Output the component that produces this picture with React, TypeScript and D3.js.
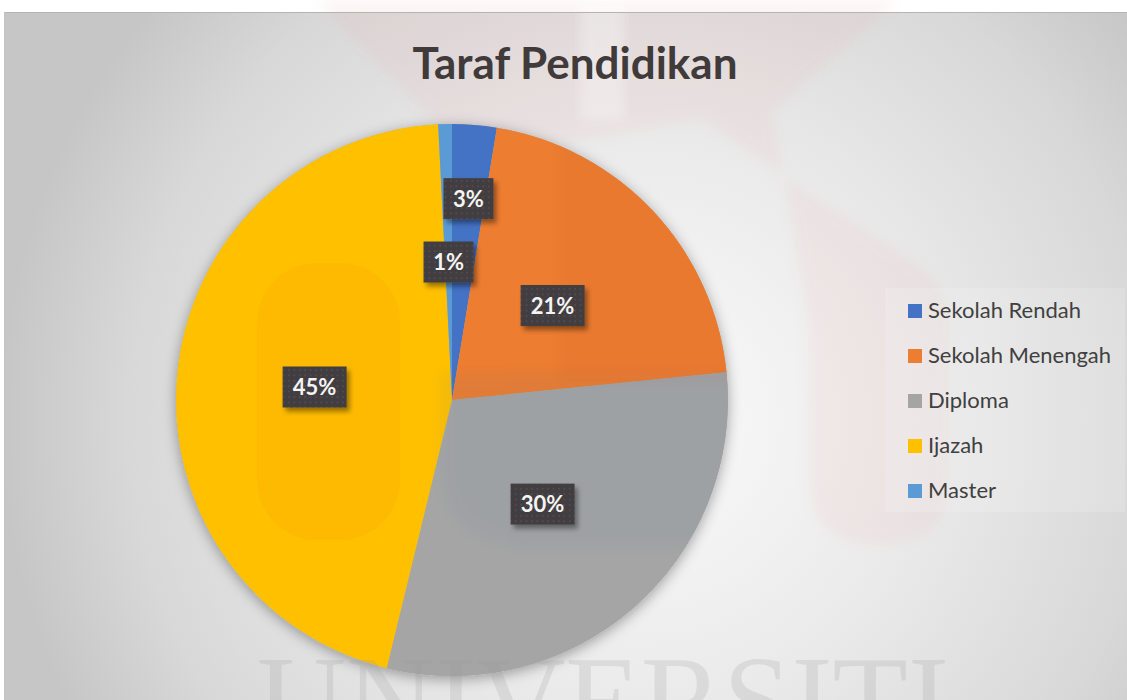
import { useEffect, useRef } from "react";
import * as d3 from "d3";

const categories = ["Sekolah Rendah", "Sekolah Menengah", "Diploma", "Ijazah", "Master"];
const values = [2.6, 20.8, 30.4, 45.4, 0.8];
const colors = ["#4472C4", "#ED7D31", "#A5A5A5", "#FFC000", "#5B9BD5"];
const title = "Taraf Pendidikan";

const App = () => {
    const chartRef = useRef<SVGSVGElement | null>(null);

    useEffect(() => {
        if (!chartRef.current) return;
        d3.select(chartRef.current).selectAll("*").remove();

        const width = 1127;
        const height = 700;
        const cx = 452;
        const cy = 400;
        const radius = 276;

        const svg = d3.select(chartRef.current).attr("width", width).attr("height", height);
        const defs = svg.append("defs");

        // background gradient
        const grad = defs
            .append("radialGradient")
            .attr("id", "bg")
            .attr("gradientUnits", "userSpaceOnUse")
            .attr("cx", 640)
            .attr("cy", 420)
            .attr("r", 640);
        grad.append("stop").attr("offset", 0).attr("stop-color", "#fbfbfb");
        grad.append("stop").attr("offset", 0.45).attr("stop-color", "#eaeaea");
        grad.append("stop").attr("offset", 0.8).attr("stop-color", "#d8d8d8");
        grad.append("stop").attr("offset", 1).attr("stop-color", "#c6c6c6");

        const shadow = defs.append("filter").attr("id", "pieShadow").attr("x", "-20%").attr("y", "-20%").attr("width", "140%").attr("height", "140%");
        shadow.append("feDropShadow").attr("dx", 0).attr("dy", 3).attr("stdDeviation", 7).attr("flood-color", "#000").attr("flood-opacity", 0.35);

        const boxShadow = defs.append("filter").attr("id", "boxShadow").attr("x", "-30%").attr("y", "-30%").attr("width", "160%").attr("height", "160%");
        boxShadow.append("feDropShadow").attr("dx", 3).attr("dy", 4).attr("stdDeviation", 2.5).attr("flood-color", "#000").attr("flood-opacity", 0.4);

        const soft = defs.append("filter").attr("id", "soft");
        soft.append("feGaussianBlur").attr("stdDeviation", 6);

        const dots = defs.append("pattern").attr("id", "dots").attr("width", 5.4).attr("height", 5.4).attr("patternUnits", "userSpaceOnUse");
        dots.append("rect").attr("width", 5.4).attr("height", 5.4).attr("fill", "#423d3f");
        dots.append("rect").attr("x", 2).attr("y", 2).attr("width", 1.5).attr("height", 1.5).attr("fill", "#575254");

        // chart area
        svg.append("rect").attr("width", width).attr("height", height).attr("fill", "#ffffff");
        svg.append("rect").attr("x", 4).attr("y", 12).attr("width", width).attr("height", height).attr("fill", "url(#bg)");

        // faint watermark behind
        svg.append("path")
            .attr("d", "M316,0 L899,0 L773,112 L809,330 L809,480 Q809,545 880,545 Q950,545 950,480 L950,320 Q950,290 920,265 L700,120 L470,160 Z")
            .attr("fill", "#f0a0a0")
            .attr("opacity", 0.1)
            .attr("filter", "url(#soft)");
        svg.append("rect").attr("x", 580).attr("y", 0).attr("width", 44).attr("height", 120).attr("fill", "#ffffff").attr("opacity", 0.3).attr("filter", "url(#soft)");

        svg.append("line").attr("x1", 4).attr("x2", width).attr("y1", 12.5).attr("y2", 12.5).attr("stroke", "#b4b4b4");
        svg.append("line").attr("x1", 4.5).attr("x2", 4.5).attr("y1", 12).attr("y2", height).attr("stroke", "#c4c4c4");

        // title
        svg.append("text")
            .attr("x", 575)
            .attr("y", 79)
            .attr("text-anchor", "middle")
            .attr("font-family", "Lato, 'Open Sans', sans-serif")
            .attr("font-weight", 700)
            .attr("font-size", 44)
            .attr("fill", "#403a3b")
            .text(title);

        // pie
        const pie = d3.pie<number>().sort(null).value((d) => d);
        const arcs = pie(values);
        const arc = d3.arc<d3.PieArcDatum<number>>().innerRadius(0).outerRadius(radius);

        const g = svg.append("g").attr("transform", `translate(${cx},${cy})`);
        g.append("circle").attr("r", radius).attr("fill", "#aaaaaa").attr("filter", "url(#pieShadow)");
        g.selectAll("path.slice")
            .data(arcs)
            .enter()
            .append("path")
            .attr("class", "slice")
            .attr("d", arc)
            .attr("fill", (_, i) => colors[i]);

        // watermark tints over the pie
        const clip = defs.append("clipPath").attr("id", "pieClip");
        clip.append("circle").attr("cx", cx).attr("cy", cy).attr("r", radius);
        const wm = svg.append("g").attr("clip-path", "url(#pieClip)");
        wm.append("rect").attr("x", 257).attr("y", 263).attr("width", 143).attr("height", 277).attr("rx", 60).attr("fill", "#f08c00").attr("opacity", 0.1);
        wm.append("path")
            .attr("d", "M440,372 L770,372 L770,460 Q770,545 685,545 L525,545 Q440,545 440,460 Z")
            .attr("fill", "#4f6f95")
            .attr("opacity", 0.07)
            .attr("filter", "url(#soft)");
        wm.append("path")
            .attr("d", "M560,120 L760,120 L760,380 L560,380 Z")
            .attr("fill", "#b04020")
            .attr("opacity", 0.05)
            .attr("filter", "url(#soft)");

        // data labels, pushed outward when they collide
        const total = d3.sum(values);
        const placed: { x: number; y: number; w: number; h: number }[] = [];
        const labels: { x: number; y: number; w: number; h: number; text: string }[] = [];
        const boxH = 41;
        const gap = 22;
        for (let i = arcs.length - 1; i >= 0; i--) {
            const a = arcs[i];
            const text = `${Math.round((a.data / total) * 100)}%`;
            const w = 22 + 14 * text.length;
            const mid = (a.startAngle + a.endAngle) / 2;
            let r = radius / 2;
            let x = 0;
            let y = 0;
            for (let k = 0; k < 200; k++) {
                x = cx + Math.sin(mid) * r;
                y = cy - Math.cos(mid) * r;
                const hit = placed.some(
                    (p) => Math.abs(p.x - x) < (p.w + w) / 2 && Math.abs(p.y - y) < (p.h + boxH) / 2 + gap
                );
                if (!hit) break;
                r += 2;
            }
            placed.push({ x, y, w, h: boxH });
            labels.push({ x, y, w, h: boxH, text });
        }

        const lab = svg.selectAll("g.label").data(labels).enter().append("g").attr("class", "label");
        lab.append("rect")
            .attr("x", (d) => d.x - d.w / 2)
            .attr("y", (d) => d.y - d.h / 2)
            .attr("width", (d) => d.w)
            .attr("height", (d) => d.h)
            .attr("fill", "url(#dots)")
            .attr("filter", "url(#boxShadow)");
        lab.append("text")
            .attr("x", (d) => d.x)
            .attr("y", (d) => d.y + 8)
            .attr("text-anchor", "middle")
            .attr("font-family", "Lato, 'Open Sans', sans-serif")
            .attr("font-weight", 700)
            .attr("font-size", 22)
            .attr("fill", "#f4f4f4")
            .text((d) => d.text);

        // legend
        const legendY = d3.scalePoint<string>().domain(categories).range([311, 491]);
        svg.append("rect").attr("x", 885).attr("y", 288).attr("width", 240).attr("height", 224).attr("fill", "#ffffff").attr("opacity", 0.15);
        const leg = svg.selectAll("g.legend").data(categories).enter().append("g").attr("class", "legend");
        leg.append("rect")
            .attr("x", 908)
            .attr("y", (d) => legendY(d)! - 7)
            .attr("width", 14)
            .attr("height", 14)
            .attr("fill", (_, i) => colors[i]);
        leg.append("text")
            .attr("x", 928)
            .attr("y", (d) => legendY(d)! + 7)
            .attr("font-family", "Lato, 'Open Sans', sans-serif")
            .attr("font-size", 22)
            .attr("fill", "#404040")
            .text((d) => d);

        // bottom watermark text
        svg.append("text")
            .attr("x", 257)
            .attr("y", 745)
            .attr("textLength", 692)
            .attr("lengthAdjust", "spacingAndGlyphs")
            .attr("font-family", "'Liberation Serif', serif")
            .attr("font-size", 130)
            .attr("fill", "#9a9a9a")
            .attr("opacity", 0.2)
            .text("UNIVERSITI");
    }, []);

    return (
        <svg ref={chartRef} style={{ position: "absolute", left: 0, top: 0, display: "block" }}></svg>
    );
};

export default App;
